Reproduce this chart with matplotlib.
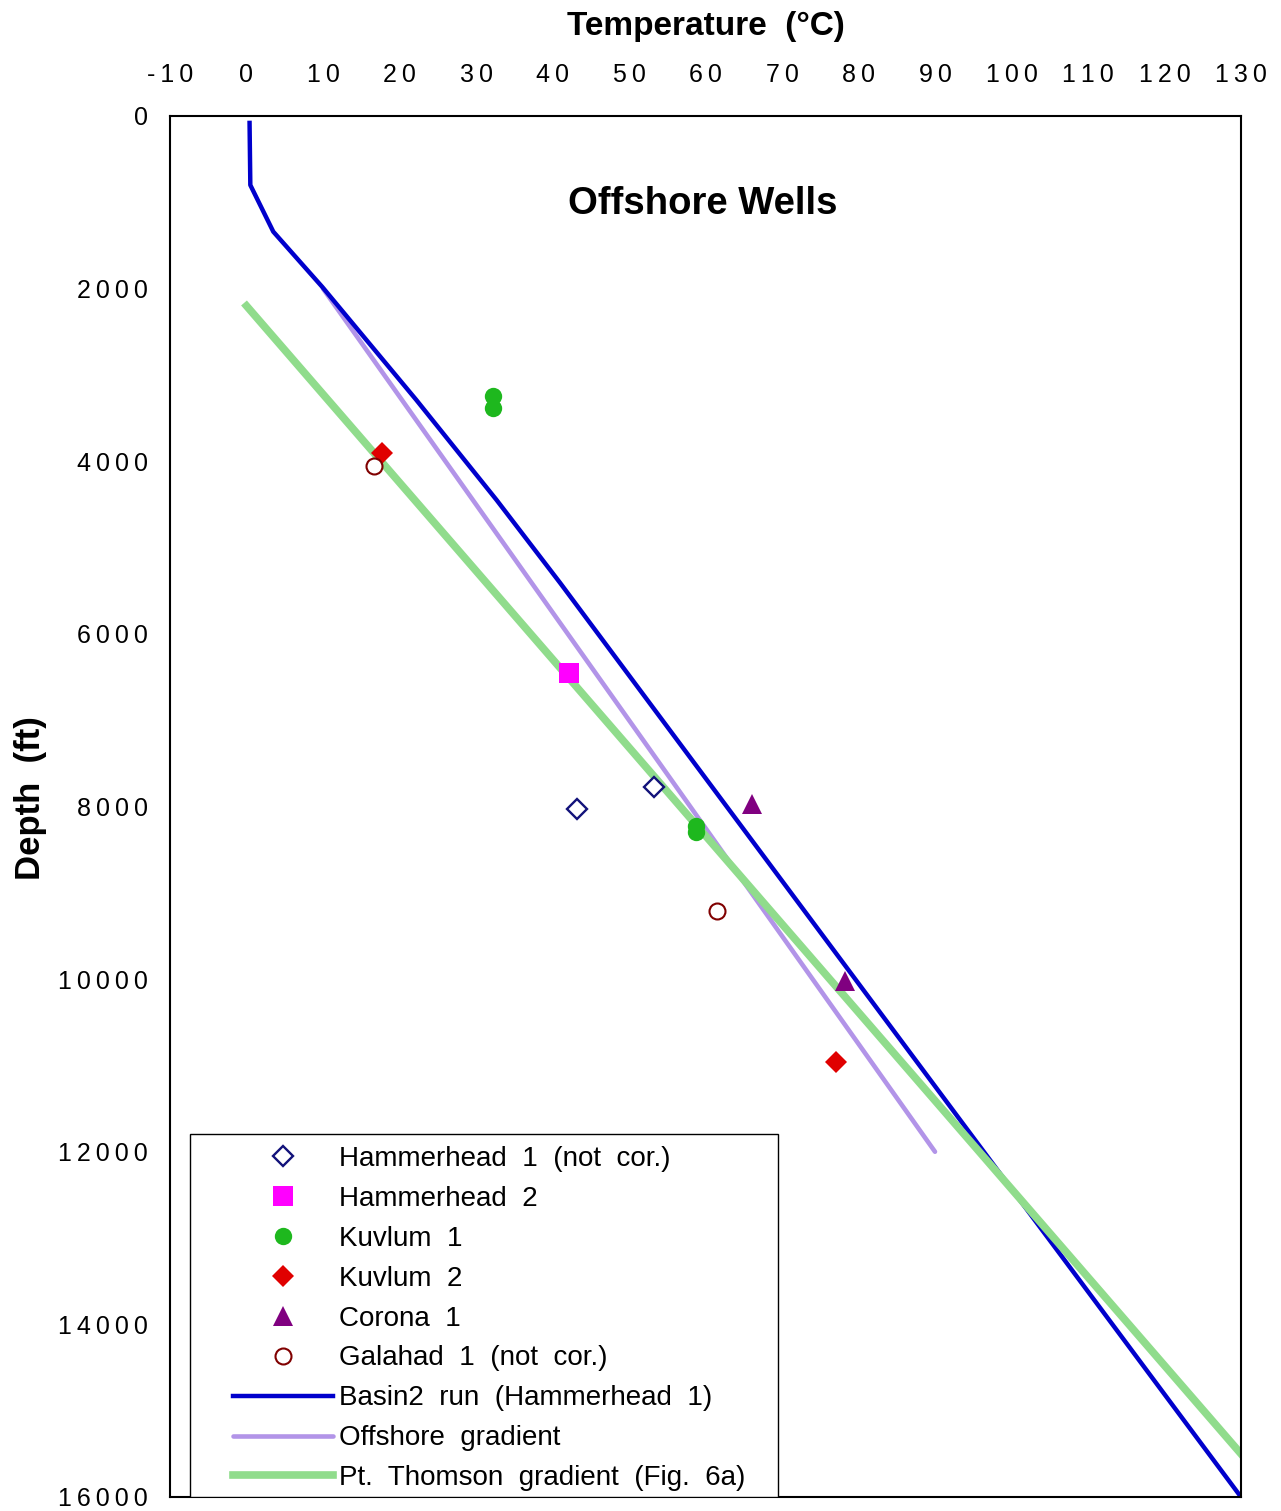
import matplotlib
matplotlib.use('Agg')
import matplotlib.pyplot as plt
import matplotlib.patches as patches
from matplotlib.ticker import FuncFormatter

# Well data (temperature in deg C, depth in ft)
hh1_temp = [43.2, 53.3]
hh1_depth = [8030, 7770]
hh2_temp = [42.2]
hh2_depth = [6455]
kuv1_temp = [32.2, 32.2, 58.8, 58.8]
kuv1_depth = [3245, 3385, 8230, 8290]
kuv2_temp = [17.7, 77.1]
kuv2_depth = [3900, 10955]
cor_temp = [66.1, 78.3]
cor_depth = [7970, 10020]
gal_temp = [16.7, 61.5]
gal_depth = [4050, 9205]

# Gradient lines
basin_temp = [0.4, 0.5, 3.5, 9.9, 22.2, 32.7, 41.0, 130.0]
basin_depth = [80, 800, 1340, 1980, 3290, 4450, 5410, 16000]
offshore_temp = [10, 90]
offshore_depth = [2000, 12000]
thomson_temp = [0, 130]
thomson_depth = [2200, 15500]

x_ticks = list(range(-10, 131, 10))
y_ticks = list(range(0, 16001, 2000))

plt.rcParams['font.family'] = ['Liberation Sans', 'DejaVu Sans']

fig = plt.figure(figsize=(12.81, 15.11), dpi=100)
ax = fig.add_axes([170 / 1281, 1 - 1497 / 1511, 1071 / 1281, 1381 / 1511])

# lines
ax.plot(offshore_temp, offshore_depth, color='#b294e8', lw=3.3, zorder=2,
        solid_capstyle='round', label='Offshore  gradient')
ax.plot(basin_temp, basin_depth, color='#0000cc', lw=3.2, zorder=2.1,
        label='Basin2  run  (Hammerhead  1)')
ax.plot(thomson_temp, thomson_depth, color='#90dc8c', lw=5.5, zorder=2.2,
        label='Pt.  Thomson  gradient  (Fig.  6a)')

# well points
ax.plot(hh1_temp, hh1_depth, ls='none', marker='D', ms=10, mfc='white',
        mec='#12127a', mew=1.7, zorder=3, label='Hammerhead  1  (not  cor.)')
ax.plot(hh2_temp, hh2_depth, ls='none', marker='s', ms=14, mfc='#ff00ff',
        mec='#ff00ff', mew=0, zorder=3, label='Hammerhead  2')
ax.plot(kuv1_temp, kuv1_depth, ls='none', marker='o', ms=12.5, mfc='#1eb81e',
        mec='#1eb81e', mew=0, zorder=3, label='Kuvlum  1')
ax.plot(kuv2_temp, kuv2_depth, ls='none', marker='D', ms=11, mfc='#e00000',
        mec='#e00000', mew=0, zorder=3, label='Kuvlum  2')
ax.plot(cor_temp, cor_depth, ls='none', marker='^', ms=15, mfc='#800080',
        mec='#800080', mew=0, zorder=3, label='Corona  1')
ax.plot(gal_temp, gal_depth, ls='none', marker='o', ms=11.5, mfc='white',
        mec='#800000', mew=1.5, zorder=3, label='Galahad  1  (not  cor.)')

ax.set_xlim(-10, 130)
ax.set_ylim(16000, 0)
ax.set_xticks(x_ticks)
ax.set_yticks(y_ticks)

spaced = FuncFormatter(lambda v, p: '\u2009'.join(str(int(v))))
ax.xaxis.set_major_formatter(spaced)
ax.yaxis.set_major_formatter(spaced)
ax.xaxis.tick_top()
ax.xaxis.set_label_position('top')
ax.tick_params(axis='x', length=0, pad=21, labelsize=18)
ax.tick_params(axis='y', length=0, pad=16, labelsize=18)

for s in ax.spines.values():
    s.set_linewidth(1.5)

ax.set_xlabel('Temperature  (\u00b0C)', fontsize=24, fontweight='bold', labelpad=20)
ax.set_ylabel('Depth  (ft)', fontsize=25, fontweight='bold')
ax.yaxis.set_label_coords(-0.1149, 0.506)

ax.text(0.4977, 0.936, 'Offshore Wells', transform=ax.transAxes,
        ha='center', va='center', fontsize=27.5, fontweight='bold')

# legend box drawn by hand, legend itself frameless
box = patches.Rectangle((20 / 1071, 0), 588 / 1071, 363 / 1381, transform=ax.transAxes,
                        fill=True, fc='white', ec='black', lw=1.0, zorder=4)
ax.add_patch(box)

handles, labels = ax.get_legend_handles_labels()
order = [3, 4, 5, 6, 7, 8, 1, 0, 2]
leg = ax.legend([handles[i] for i in order], [labels[i] for i in order],
                loc='upper left', bbox_to_anchor=(63 / 1071, 351 / 1381),
                borderaxespad=0, borderpad=0, fontsize=20, frameon=False,
                handlelength=3.6, handletextpad=0.2, labelspacing=0.5,
                numpoints=1)
leg.set_zorder(5)

fig.savefig('out.png', dpi=100)
